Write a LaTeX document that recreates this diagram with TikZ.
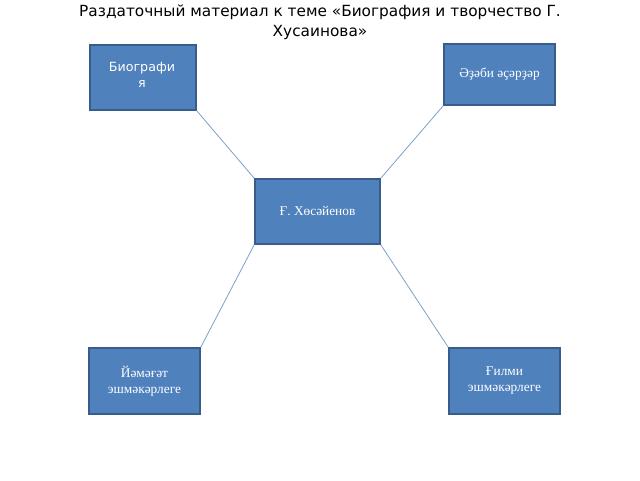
\documentclass[tikz,border=0pt]{standalone}
\usepackage{fontspec}
\setmainfont{Liberation Serif}
\newfontfamily\titlefont{DejaVu Sans}
\usetikzlibrary{positioning}
\definecolor{boxfill}{RGB}{79,129,189}
\definecolor{boxline}{RGB}{56,93,138}
\definecolor{linkline}{RGB}{125,160,200}
\tikzset{
  topic/.style={draw=boxline, line width=1.2pt, fill=boxfill, text=white,
    align=center, inner sep=2pt, font=\fontsize{10}{12}\selectfont},
  link/.style={draw=linkline, line width=0.6pt}
}
\begin{document}
\begin{tikzpicture}[x=0.75pt,y=-0.75pt]
  \useasboundingbox (0,0) rectangle (640,480);
  \node [font=\titlefont\fontsize{11.5}{15}\selectfont, align=center] (title) at (320,22)
    {Раздаточный материал к теме «Биография и творчество Г.\\Хусаинова»};

  \node [topic, minimum width=79.5pt, minimum height=48.75pt, font=\titlefont\fontsize{9.5}{12}\selectfont,
    text width=72pt, anchor=north west, align=left] (bio) at (89,44) {};
  \node [white, font=\titlefont\fontsize{9.5}{12}\selectfont, anchor=north, align=center] at (142,58) {Биографи\\я};
  \node [topic, minimum width=83.25pt, minimum height=45.75pt] (adabi) at (499.5,74.5) {Әҙәби әҫәрҙәр};
  \node [topic, minimum width=93.75pt, minimum height=48.75pt] (hus) at (317.5,211.5) {Ғ. Хөсәйенов};
  \node [topic, minimum width=83.25pt, minimum height=49.5pt] (jamagat) at (144.5,381) {Йәмәғәт\\эшмәкәрлеге};
  \node [topic, minimum width=83.25pt, minimum height=49.5pt] (gilmi) at (504.5,381) {Ғилми\\эшмәкәрлеге};

  % links from the centre corners
  \draw [link] (hus.north west) -- (bio.south east);
  \draw [link] (hus.north east) -- (adabi.south west);
  \draw [link] (hus.south west) -- (jamagat.north east);
  \draw [link] (hus.south east) -- (gilmi.north west);
\end{tikzpicture}
\end{document}
